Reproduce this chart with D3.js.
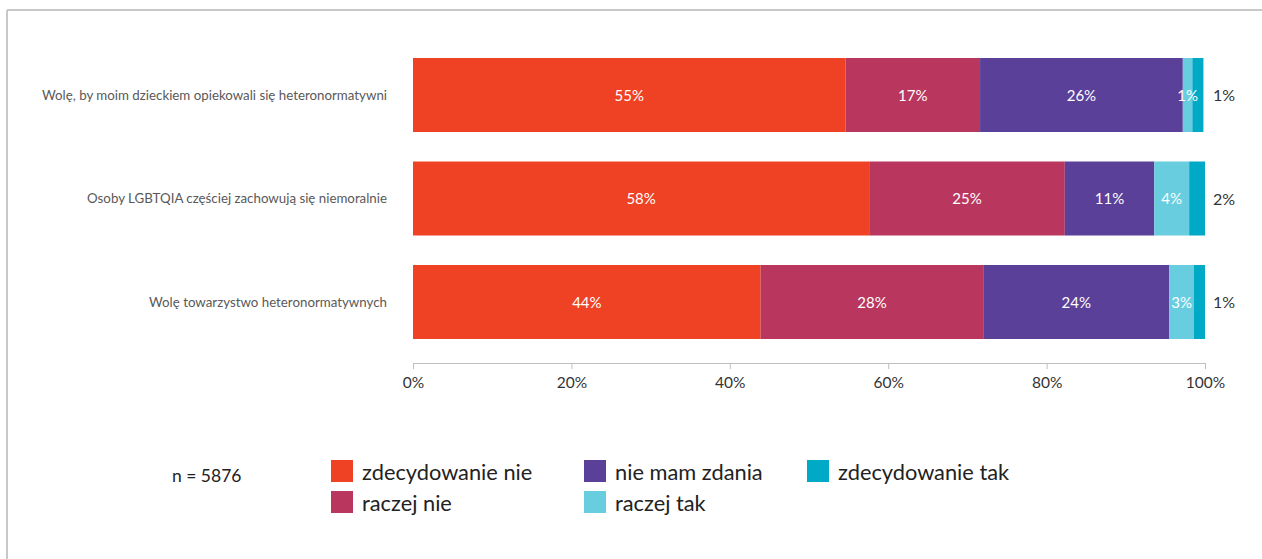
<!DOCTYPE html>
<html lang="pl">

<head>
    <meta charset="UTF-8">
    <title>Stacked bars</title>
    <style>
        body { margin: 0; background: #fff; }
        svg { display: block; font-family: Lato, "Open Sans", sans-serif; }
    </style>
</head>

<body>
    <div class="canvas"></div>
    <script src="https://cdnjs.cloudflare.com/ajax/libs/d3/7.8.2/d3.min.js"></script>
    <script>
        // data
        const categories = [
            "Wolę, by moim dzieckiem opiekowali się heteronormatywni",
            "Osoby LGBTQIA częściej zachowują się niemoralnie",
            "Wolę towarzystwo heteronormatywnych"
        ];
        const seriesNames = ["zdecydowanie nie", "raczej nie", "nie mam zdania", "raczej tak", "zdecydowanie tak"];
        const zdecydowanieNie = [54.6, 57.6, 43.9];
        const raczejNie = [17.0, 24.7, 28.1];
        const nieMamZdania = [25.6, 11.3, 23.5];
        const raczejTak = [1.2, 4.4, 3.1];
        const zdecydowanieTak = [1.4, 2.0, 1.4];
        const xTicks = [0, 20, 40, 60, 80, 100];
        const sampleText = "n = 5876";

        const colors = ["#ef4123", "#b9375e", "#5b4099", "#67cddf", "#00a9c6"];

        const width = 1262, height = 559;
        const svg = d3.select(".canvas").append("svg")
            .attr("width", width).attr("height", height);

        // frame
        svg.append("line").attr("x1", 7).attr("x2", width).attr("y1", 10).attr("y2", 10)
            .attr("stroke", "#c8c8c8").attr("stroke-width", 2);
        svg.append("line").attr("x1", 7).attr("x2", 7).attr("y1", 10).attr("y2", height)
            .attr("stroke", "#c8c8c8").attr("stroke-width", 2);

        const rows = categories.map((c, i) => ({
            name: c,
            "zdecydowanie nie": zdecydowanieNie[i],
            "raczej nie": raczejNie[i],
            "nie mam zdania": nieMamZdania[i],
            "raczej tak": raczejTak[i],
            "zdecydowanie tak": zdecydowanieTak[i]
        }));

        const stack = d3.stack().keys(seriesNames)(rows);

        const x = d3.scaleLinear().domain([0, 100]).range([413, 1205]);
        const y = d3.scaleBand().domain(categories).range([58, 339]).paddingInner(0.285).paddingOuter(0);

        const layers = svg.append("g").selectAll("g")
            .data(stack).enter().append("g")
            .attr("fill", (d, i) => colors[i]);

        layers.selectAll("rect")
            .data(d => d)
            .enter().append("rect")
            .attr("x", d => x(d[0]))
            .attr("y", d => y(d.data.name))
            .attr("width", d => x(d[1]) - x(d[0]))
            .attr("height", y.bandwidth());

        // value labels, drawn on top of all rects
        const labelLayers = svg.append("g").selectAll("g")
            .data(stack).enter().append("g");
        labelLayers.each(function (layer, li) {
            const last = li === seriesNames.length - 1;
            d3.select(this).selectAll("text")
                .data(layer)
                .enter().append("text")
                .attr("x", d => last ? x(100) + 8 : (x(d[0]) + x(d[1])) / 2)
                .attr("y", d => y(d.data.name) + y.bandwidth() / 2)
                .attr("dy", "0.38em")
                .attr("text-anchor", last ? "start" : "middle")
                .attr("fill", last ? "#333" : "#fff")
                .attr("font-size", last ? "16px" : "15px")
                .text(d => Math.round(d[1] - d[0]) + "%");
        });

        // category labels
        svg.append("g").selectAll("text")
            .data(categories).enter().append("text")
            .attr("x", 387)
            .attr("y", d => y(d) + y.bandwidth() / 2)
            .attr("dy", "0.35em")
            .attr("text-anchor", "end")
            .attr("fill", "#595959")
            .attr("font-size", "13.3px")
            .text(d => d);

        // axis
        const xAxis = d3.axisBottom(x).tickValues(xTicks).tickFormat(d => d + "%").tickSize(6).tickSizeOuter(0);
        const axisG = svg.append("g").attr("transform", "translate(0, 363)").call(xAxis);
        axisG.select(".domain").attr("stroke", "#bfbfbf");
        axisG.selectAll(".tick line").attr("stroke", "#bfbfbf");
        axisG.selectAll(".tick text").attr("fill", "#333").attr("font-size", "15.5px")
            .attr("font-family", "Lato, sans-serif").attr("y", 14);

        // legend
        svg.append("text").attr("x", 172).attr("y", 482)
            .attr("font-size", "17.5px").attr("fill", "#222").text(sampleText);

        const legendCols = [331, 584, 807];
        const legend = svg.append("g").selectAll("g")
            .data(seriesNames).enter().append("g")
            .attr("transform", (d, i) => `translate(${legendCols[Math.floor(i / 2)]}, ${460 + (i % 2) * 31})`);
        legend.append("rect").attr("width", 22).attr("height", 22).attr("fill", (d, i) => colors[i]);
        legend.append("text").attr("x", 31).attr("y", 12).attr("dy", "0.35em")
            .attr("font-size", "21.8px").attr("fill", "#222").text(d => d);
    </script>
</body>

</html>
